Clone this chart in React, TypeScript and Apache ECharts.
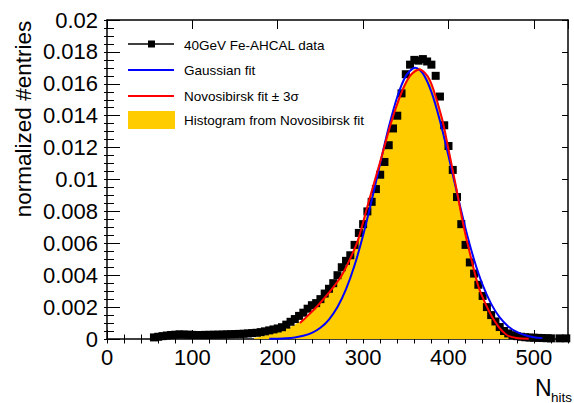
import React, { useEffect, useRef } from "react";
import * as echarts from "echarts";

// ---- data ----
const xTickLabels = ["0", "100", "200", "300", "400", "500"];
const yTickLabels = ["0", "0.002", "0.004", "0.006", "0.008", "0.01", "0.012", "0.014", "0.016", "0.018", "0.02"];

const dataX = [
  55, 60, 65, 70, 75, 80, 85, 90, 95, 100, 105, 110, 115, 120, 125, 130, 135, 140, 145, 150,
  155, 160, 165, 170, 175, 180, 185, 190, 195, 200, 205, 210, 215, 220, 225, 230, 235, 240, 245, 250,
  255, 260, 265, 270, 275, 280, 285, 290, 295, 300, 305, 310, 315, 320, 325, 330, 335, 340, 345, 350,
  355, 360, 365, 370, 375, 380, 385, 390, 395, 400, 405, 410, 415, 420, 425, 430, 435, 440, 445, 450,
  455, 460, 465, 470, 475, 480, 485, 490, 495, 500, 505, 510, 515, 520, 530, 538,
];
const dataY = [
  0.0001, 0.00014, 0.00018, 0.00022, 0.00025, 0.00027, 0.00029, 0.00028, 0.00027, 0.00026,
  0.00025, 0.00025, 0.00026, 0.00026, 0.00027, 0.00027, 0.00028, 0.00029, 0.0003, 0.00031,
  0.00032, 0.00033, 0.00035, 0.00037, 0.00039, 0.00043, 0.00048, 0.00054, 0.0006, 0.00066,
  0.00074, 0.0009, 0.00108, 0.00125, 0.00145, 0.00165, 0.0019, 0.00212, 0.00225, 0.0025,
  0.00285, 0.00315, 0.0035, 0.004, 0.0045, 0.0049, 0.00525, 0.0059, 0.00665, 0.0072,
  0.008, 0.0086, 0.0094, 0.0103, 0.0111, 0.01215, 0.0132, 0.014, 0.0154, 0.0166,
  0.0172, 0.0175, 0.01745, 0.01755, 0.0174, 0.0172, 0.0165, 0.0152, 0.0134, 0.0121,
  0.0106, 0.0089, 0.0072, 0.0059, 0.0048, 0.0041, 0.0034, 0.0027, 0.002, 0.0015,
  0.0011, 0.00075, 0.0005, 0.00035, 0.00024, 0.00018, 0.00014, 0.00011, 0.00009, 0.00008,
  0.00007, 0.00006, 0.00005, 0.00004, 0.00004, 0.00004,
];

const gausX = [190, 200, 210, 220, 230, 240, 250, 260, 270, 280, 290, 300, 310, 320, 330, 340, 350, 361, 370, 380, 390, 400, 410, 420, 430, 440, 450, 460, 470, 480, 490, 500, 510];
const gausY = [
  0.000009, 0.000021, 0.000047, 0.0001, 0.000202, 0.000387, 0.000705, 0.00122, 0.002, 0.00312,
  0.00462, 0.0065, 0.00868, 0.01101, 0.01327, 0.01517, 0.01648, 0.017, 0.01665, 0.01549,
  0.01368, 0.01148, 0.00915, 0.00692, 0.00497, 0.00339, 0.0022, 0.00135, 0.00079, 0.00044,
  0.000231, 0.000116, 0.000055,
];

const novoX = [226, 235, 247, 260, 274, 285, 294, 307, 321, 333, 345, 355, 366, 378, 392, 400, 409, 418, 427, 435, 443, 451, 459, 465, 470, 480, 494];
const novoY = [
  0.001, 0.00145, 0.0021, 0.0029, 0.0039, 0.00505, 0.0062, 0.0087, 0.0113, 0.0136,
  0.01545, 0.0165, 0.0169, 0.01625, 0.0139, 0.0119, 0.0095, 0.007, 0.00495, 0.0033,
  0.00225, 0.0014, 0.00075, 0.0004, 0.0002, 0.00006, 0.00002,
];

const histX = [172, 180, 190, 200, 210, 220, 230, 240, 250, 260, 270, 280, 290, 300, 310, 320, 330, 340, 350, 360, 366, 370, 380, 390, 400, 410, 420, 430, 440, 450, 460, 470, 480, 488];
const histY = [
  0.00005, 0.00015, 0.0003, 0.00045, 0.00065, 0.0009, 0.00125, 0.0017, 0.0023, 0.0029,
  0.0036, 0.0045, 0.0057, 0.0073, 0.0092, 0.0112, 0.0131, 0.0149, 0.0162, 0.0169,
  0.017, 0.0168, 0.016, 0.0143, 0.012, 0.0092, 0.0066, 0.0044, 0.0027, 0.0015,
  0.0008, 0.0003, 0.0001, 0,
];

const zip = (xs: number[], ys: number[]) => xs.map((x, i) => [x, ys[i]]);

const FONT = "Liberation Sans, Arial, Helvetica, sans-serif";

export default function App() {
  const ref = useRef<HTMLDivElement>(null);

  useEffect(() => {
    if (!ref.current) return;
    const chart = echarts.init(ref.current, undefined, { renderer: "svg" });

    const axisCommon = {
      type: "value" as const,
      splitLine: { show: false },
      axisLine: { show: true, onZero: false, lineStyle: { color: "#000", width: 1.5 } },
    };
    const xBase = { ...axisCommon, min: 0, max: 540 };
    const yBase = { ...axisCommon, min: 0, max: 0.02 };

    chart.setOption({
      animation: false,
      backgroundColor: "#fff",
      grid: { left: 107, right: 6, top: 20, bottom: 64, containLabel: false },
      xAxis: [
        {
          ...xBase,
          position: "bottom",
          interval: 100,
          axisTick: { inside: true, length: 9, lineStyle: { color: "#000", width: 1 } },
          axisLabel: {
            margin: 7,
            fontSize: 22,
            color: "#000",
            fontFamily: FONT,
            showMaxLabel: false,
            formatter: (v: number) => xTickLabels[Math.round(v / 100)] ?? "",
          },
        },
        {
          ...xBase,
          position: "bottom",
          interval: 20,
          axisLine: { show: false },
          axisTick: { inside: true, length: 4.5, lineStyle: { color: "#000", width: 1 } },
          axisLabel: { show: false },
        },
        {
          ...xBase,
          position: "top",
          interval: 100,
          axisTick: { inside: true, length: 9, lineStyle: { color: "#000", width: 1 } },
          axisLabel: { show: false },
        },
        {
          ...xBase,
          position: "top",
          interval: 20,
          axisLine: { show: false },
          axisTick: { inside: true, length: 4.5, lineStyle: { color: "#000", width: 1 } },
          axisLabel: { show: false },
        },
      ],
      yAxis: [
        {
          ...yBase,
          position: "left",
          interval: 0.002,
          axisTick: { inside: true, length: 13, lineStyle: { color: "#000", width: 1 } },
          axisLabel: {
            margin: 9,
            fontSize: 22,
            color: "#000",
            fontFamily: FONT,
            formatter: (v: number) => yTickLabels[Math.round(v / 0.002)] ?? "",
          },
        },
        {
          ...yBase,
          position: "left",
          interval: 0.0005,
          axisLine: { show: false },
          axisTick: { inside: true, length: 7, lineStyle: { color: "#000", width: 1 } },
          axisLabel: { show: false },
        },
        {
          ...yBase,
          position: "right",
          interval: 0.002,
          axisTick: { inside: true, length: 6, lineStyle: { color: "#000", width: 1 } },
          axisLabel: { show: false },
        },
        {
          ...yBase,
          position: "right",
          interval: 0.0005,
          axisLine: { show: false },
          axisTick: { inside: true, length: 3, lineStyle: { color: "#000", width: 1 } },
          axisLabel: { show: false },
        },
      ],
      series: [
        {
          name: "Histogram from Novosibirsk fit",
          type: "line",
          data: zip(histX, histY),
          smooth: 0.3,
          showSymbol: false,
          lineStyle: { width: 0 },
          areaStyle: { color: "#FFCC00", opacity: 1 },
          z: 1,
        },
        {
          name: "40GeV Fe-AHCAL data",
          type: "scatter",
          data: zip(dataX, dataY),
          symbol: "rect",
          symbolSize: 8,
          itemStyle: { color: "#000", opacity: 1 },
          z: 2,
        },
        {
          name: "Gaussian fit",
          type: "line",
          data: zip(gausX, gausY),
          smooth: 0.3,
          showSymbol: false,
          lineStyle: { color: "#0000FF", width: 2 },
          z: 3,
        },
        {
          name: "Novosibirsk fit ± 3σ",
          type: "line",
          data: zip(novoX, novoY),
          smooth: 0.3,
          showSymbol: false,
          lineStyle: { color: "#FF0000", width: 2 },
          z: 4,
        },
      ],
      graphic: [
        // legend
        { type: "line", shape: { x1: 128, y1: 44, x2: 174, y2: 44 }, style: { stroke: "#000", lineWidth: 1.5 } },
        { type: "rect", shape: { x: 148, y: 40.5, width: 7, height: 7 }, style: { fill: "#000" } },
        { type: "text", x: 184, y: 45, style: { text: "40GeV Fe-AHCAL data", fontSize: 13.5, fontFamily: FONT, fill: "#000", verticalAlign: "middle" } },
        { type: "line", shape: { x1: 128, y1: 70, x2: 174, y2: 70 }, style: { stroke: "#0000FF", lineWidth: 2 } },
        { type: "text", x: 184, y: 70, style: { text: "Gaussian fit", fontSize: 13.5, fontFamily: FONT, fill: "#000", verticalAlign: "middle" } },
        { type: "line", shape: { x1: 128, y1: 96, x2: 174, y2: 96 }, style: { stroke: "#FF0000", lineWidth: 2 } },
        { type: "text", x: 184, y: 96, style: { text: "Novosibirsk fit ± 3σ", fontSize: 13.5, fontFamily: FONT, fill: "#000", verticalAlign: "middle" } },
        { type: "rect", shape: { x: 128, y: 111, width: 47, height: 18 }, style: { fill: "#FFCC00" } },
        { type: "text", x: 184, y: 120, style: { text: "Histogram from Novosibirsk fit", fontSize: 13.5, fontFamily: FONT, fill: "#000", verticalAlign: "middle" } },
        // axis titles
        {
          type: "text",
          x: 23,
          y: 119,
          rotation: Math.PI / 2,
          style: { text: "normalized #entries", fontSize: 22.5, fontFamily: FONT, fill: "#000", align: "center", verticalAlign: "middle" },
        },
        { type: "text", x: 535, y: 388, style: { text: "N", fontSize: 23, fontFamily: FONT, fill: "#000", align: "left", verticalAlign: "middle" } },
        { type: "text", x: 551, y: 397, style: { text: "hits", fontSize: 13.5, fontFamily: FONT, fill: "#000", align: "left", verticalAlign: "middle" } },
      ],
    });

    return () => chart.dispose();
  }, []);

  return <div ref={ref} style={{ width: 574, height: 403, position: "absolute", left: 0, top: 0 }} />;
}
